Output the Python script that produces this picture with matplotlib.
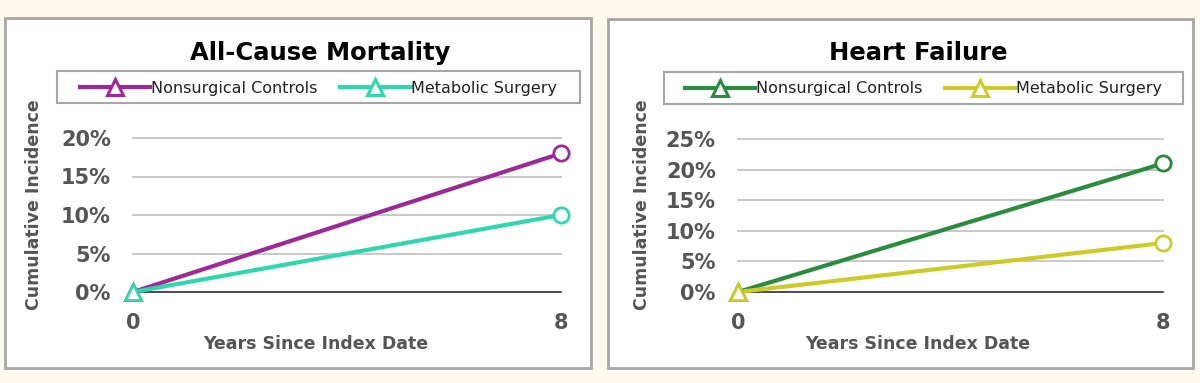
import matplotlib.pyplot as plt
from matplotlib.patches import Rectangle
from matplotlib.lines import Line2D

# data
years = [0, 8]
series_names = ['Nonsurgical Controls', 'Metabolic Surgery']

mortality_title = 'All-Cause Mortality'
mortality_controls = [0.0, 18.0]
mortality_surgery = [0.0, 10.0]
mortality_ticks = [0, 5, 10, 15, 20]
mortality_colors = ['#9c2a96', '#30d6ae']

hf_title = 'Heart Failure'
hf_controls = [0.0, 21.0]
hf_surgery = [0.0, 8.0]
hf_ticks = [0, 5, 10, 15, 20, 25]
hf_colors = ['#2a8c3e', '#cccc28']

W, H = 1200, 383
BG = '#fdf9ef'
TXT = '#555555'

plt.rcParams['font.family'] = 'DejaVu Sans'
fig = plt.figure(figsize=(W / 100, H / 100), dpi=100, facecolor=BG)


def fx(px):
    return px / W


def fy(py):
    return 1 - py / H


def draw_panel(x0, x1, y0, y1, plot_box, title, title_x, xlabel_x, ylabel_x,
               legend_box, values, colors, ticks):
    # white panel with grey frame
    fig.patches.append(Rectangle((fx(x0), fy(y1)), fx(x1 - x0), (y1 - y0) / H,
                                 transform=fig.transFigure, facecolor='white',
                                 edgecolor='#a6a6a6', linewidth=2, zorder=-2))

    px0, px1, py_top, py0 = plot_box
    ax = fig.add_axes([fx(px0), fy(py0), fx(px1 - px0), (py0 - py_top) / H])
    ax.set_zorder(2)
    ax.set_facecolor('none')
    ax.set_xlim(0, 8)
    ax.set_ylim(0, ticks[-1])
    for s in ax.spines.values():
        s.set_visible(False)
    for t in ticks[1:]:
        ax.axhline(t, color='#c4c4c4', linewidth=1.3, zorder=1, clip_on=False)
    ax.axhline(0, color='#1a1a1a', linewidth=1.1, zorder=1, clip_on=False)

    handles = []
    for vals, col in zip(values, colors):
        ax.plot(years, vals, color=col, linewidth=3, zorder=3, clip_on=False)
        ax.plot(years[:1], vals[:1], marker='^', markersize=11, color=col,
                markerfacecolor='white', markeredgewidth=2, linestyle='none',
                zorder=4, clip_on=False)
        ax.plot(years[1:], vals[1:], marker='o', markersize=11, color=col,
                markerfacecolor='white', markeredgewidth=2, linestyle='none',
                zorder=4, clip_on=False)
        handles.append(Line2D([], [], color=col, linewidth=3, marker='^',
                              markersize=11, markerfacecolor='white',
                              markeredgewidth=2.2))

    ax.set_xticks(years)
    ax.set_yticks(ticks)
    ax.set_yticklabels([f'{t}%' for t in ticks])
    ax.tick_params(length=0, labelsize=15, labelcolor=TXT)
    ax.tick_params(axis='y', pad=16)
    ax.tick_params(axis='x', pad=15)
    for lab in ax.get_xticklabels() + ax.get_yticklabels():
        lab.set_fontweight('bold')

    ax.set_xlabel('Years Since Index Date', fontsize=12.5, fontweight='bold',
                  color=TXT)
    ax.xaxis.set_label_coords(fx(xlabel_x), fy(344), transform=fig.transFigure)
    ax.xaxis.label.set_va('center')
    ax.set_ylabel('Cumulative Incidence', fontsize=12.5, fontweight='bold',
                  color=TXT, va='center')
    ax.yaxis.set_label_coords(fx(ylabel_x), fy(205), transform=fig.transFigure)

    fig.text(fx(title_x), fy(53), title, ha='center', va='center',
             fontsize=17.5, fontweight='bold', color='black')

    # legend frame drawn by hand, legend entries centred inside it
    lx0, lx1, ly0, ly1 = legend_box
    fig.patches.append(Rectangle((fx(lx0), fy(ly1)), fx(lx1 - lx0), (ly1 - ly0) / H,
                                 transform=fig.transFigure, facecolor='white',
                                 edgecolor='#a6a6a6', linewidth=1.5, zorder=-1))
    leg = fig.legend(handles, series_names, loc='center',
                     bbox_to_anchor=(fx((lx0 + lx1) / 2), fy((ly0 + ly1) / 2 + 1)),
                     bbox_transform=fig.transFigure, ncol=2,
                     fontsize=11.5, frameon=False, borderaxespad=0,
                     handlelength=4.4, handletextpad=0.05,
                     columnspacing=1.45, borderpad=0)
    for t in leg.get_texts():
        t.set_color('#222222')
    return ax


draw_panel(5, 591, 18, 368, (133, 561, 138, 292), mortality_title, 320, 316, 34,
           (57, 580, 71, 103), [mortality_controls, mortality_surgery],
           mortality_colors, mortality_ticks)

draw_panel(608, 1193, 19, 368, (738, 1163, 139, 292), hf_title, 918, 918, 642,
           (664, 1183, 72, 104), [hf_controls, hf_surgery],
           hf_colors, hf_ticks)

fig.savefig('out.png', dpi=100, facecolor=BG)
